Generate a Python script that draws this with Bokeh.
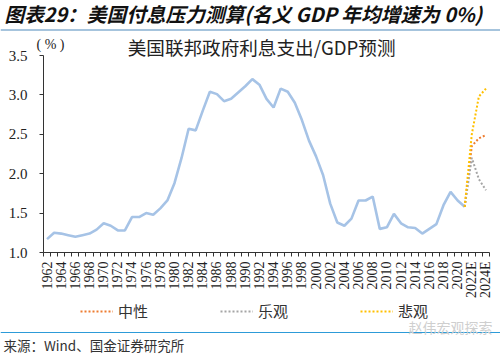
from math import pi
from bokeh.plotting import figure
from bokeh.models import (Range1d, FixedTicker, NumeralTickFormatter, Label,
                          Legend, LegendItem, Span)
from bokeh.embed import file_html
from bokeh.resources import INLINE

# ---------------- data ----------------
years = list(range(1962, 2022))
interest_gdp = [1.17, 1.25, 1.24, 1.22, 1.20, 1.22, 1.24, 1.29, 1.37, 1.34,
                1.28, 1.28, 1.45, 1.45, 1.50, 1.48, 1.56, 1.66, 1.88, 2.20,
                2.57, 2.55, 2.80, 3.04, 3.01, 2.92, 2.95, 3.03, 3.11, 3.20,
                3.13, 2.95, 2.84, 3.08, 3.04, 2.90, 2.68, 2.42, 2.22, 1.98,
                1.62, 1.38, 1.34, 1.43, 1.66, 1.66, 1.71, 1.30, 1.32, 1.49,
                1.37, 1.32, 1.31, 1.24, 1.30, 1.36, 1.60, 1.77, 1.66, 1.58]
proj_years = [2021, 2022, 2023, 2024]
neutral = [1.58, 2.35, 2.45, 2.49]
optimistic = [1.58, 2.20, 1.93, 1.79]
pessimistic = [1.58, 2.50, 2.98, 3.08]
series_names = ["中性", "乐观", "悲观"]
tick_years = list(range(1962, 2025, 2))
tick_labels = {y: (f"{y}E" if y >= 2022 else str(y)) for y in tick_years}
y_ticks = [1.0, 1.5, 2.0, 2.5, 3.0, 3.5]

# ---------------- layout ----------------
W, H = 500, 355
# pixel box of the plotting area (axis extent) inside the canvas
FL, FR, FT, FB = 43, 489, 55, 252
XMIN, XMAX, YMIN, YMAX = 1961.5, 2024.5, 1.0, 3.5


def dx(px):
    return XMIN + (px - FL) * (XMAX - XMIN) / (FR - FL)


def dy(py):
    return YMIN + (FB - py) * (YMAX - YMIN) / (FB - FT)


# the frame covers the whole canvas; axes are pinned at the data origin
p = figure(width=W, height=H, output_backend="svg", toolbar_location=None,
           x_range=Range1d(dx(0), dx(W)), y_range=Range1d(dy(H), dy(0)),
           min_border_left=0, min_border_right=0,
           min_border_top=0, min_border_bottom=0, title=None)
p.outline_line_color = None
p.xgrid.visible = False
p.ygrid.visible = False
p.background_fill_color = "white"
p.border_fill_color = "white"

# x axis
xa = p.xaxis[0]
xa.fixed_location = YMIN
xa.bounds = (XMIN, XMAX)
xa.ticker = FixedTicker(ticks=tick_years,
                        minor_ticks=[y - 0.5 for y in range(1962, 2026)])
xa.major_label_overrides = tick_labels
xa.major_label_orientation = pi / 2
xa.major_tick_out = 0
xa.major_tick_in = 0
xa.minor_tick_out = 4
xa.minor_tick_in = 0
xa.minor_tick_line_color = "#333333"
xa.axis_line_color = "#333333"
xa.major_label_standoff = 5
xa.major_label_text_font = "Liberation Serif"
xa.major_label_text_font_size = "14px"
xa.major_label_text_color = "#222222"

# y axis
ya = p.yaxis[0]
ya.fixed_location = XMIN
ya.bounds = (YMIN, YMAX)
ya.ticker = FixedTicker(ticks=y_ticks)
ya.formatter = NumeralTickFormatter(format="0.0")
ya.major_tick_out = 4
ya.major_tick_in = 0
ya.minor_tick_line_color = None
ya.major_tick_line_color = "#333333"
ya.axis_line_color = "#333333"
ya.major_label_standoff = 12
ya.major_label_text_font = "Liberation Serif"
ya.major_label_text_font_size = "15px"
ya.major_label_text_color = "#222222"

# ---------------- series ----------------
p.line(years, interest_gdp, line_color="#a6c3e6", line_width=2.6)
r_n = p.line(proj_years, neutral, line_color="#ed7d31", line_width=2,
             line_dash="2 2")
r_o = p.line(proj_years, optimistic, line_color="#a5a5a5", line_width=2,
             line_dash="2 2")
r_p = p.line(proj_years, pessimistic, line_color="#ffc000", line_width=2,
             line_dash="2 2")

legend = Legend(items=[LegendItem(label=series_names[0], renderers=[r_n]),
                       LegendItem(label=series_names[1], renderers=[r_o]),
                       LegendItem(label=series_names[2], renderers=[r_p])],
                orientation="horizontal", location=(80, H - 321),
                glyph_width=33, glyph_height=20, label_standoff=5,
                spacing=72, padding=0, margin=0,
                border_line_color=None, background_fill_alpha=0,
                label_text_font="Noto Sans CJK SC",
                label_text_font_size="15px", label_text_color="#333333")
p.add_layout(legend, "center")

# ---------------- texts & rules ----------------
p.add_layout(Label(x=dx(4), y=dy(13),
                   text="图表29：美国付息压力测算(名义 GDP 年均增速为 0%)",
                   text_font="Noto Sans CJK SC", text_font_style="bold italic",
                   text_font_size="19.7px", text_color="#111111",
                   text_baseline="middle", text_align="left"))
p.add_layout(Span(location=dy(29.5), dimension="width",
                  line_color="#4f89bb", line_width=1.2))
p.add_layout(Label(x=dx(36), y=dy(44), text="( % )",
                   text_font="Liberation Serif", text_font_size="14px",
                   text_color="#222222", text_baseline="middle",
                   text_align="left"))
p.add_layout(Label(x=dx(261), y=dy(46), text="美国联邦政府利息支出/GDP预测",
                   text_font="Noto Sans CJK SC", text_font_size="18.6px",
                   text_color="#222222", text_baseline="middle",
                   text_align="center"))
p.add_layout(Span(location=dy(332), dimension="width",
                  line_color="#2d9bd8", line_width=1.2))
p.add_layout(Label(x=dx(408), y=dy(326), text="赵伟宏观探索",
                   text_font="Noto Sans CJK SC", text_font_size="14px",
                   text_color="#cfcfcf", text_baseline="middle",
                   text_align="left"))
p.add_layout(Label(x=dx(3), y=dy(344), text="来源：Wind、国金证券研究所",
                   text_font="Noto Sans CJK SC", text_font_size="13.5px",
                   text_color="#333333", text_baseline="middle",
                   text_align="left"))

open("out.html", "w").write(file_html(p, INLINE))
